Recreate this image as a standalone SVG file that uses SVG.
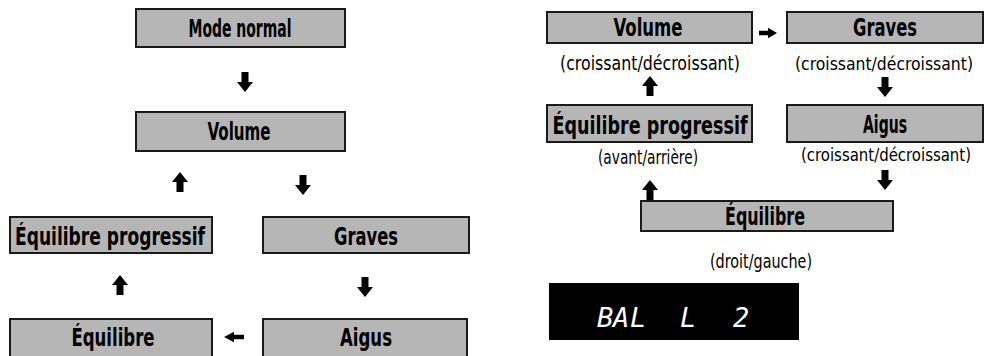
<svg xmlns="http://www.w3.org/2000/svg" width="984" height="356" viewBox="0 0 984 356">
<style>
.box{fill:#b6b6b6;stroke:#1a1a1a;stroke-width:2}
.lbl{font-family:"DejaVu Sans Condensed","Liberation Sans Narrow","Liberation Sans",sans-serif;font-weight:bold;font-size:24px;fill:#000;text-anchor:middle}
.sub{font-family:"DejaVu Sans Condensed","Liberation Sans Narrow","Liberation Sans",sans-serif;font-size:19px;fill:#000;text-anchor:middle}
.subr{font-size:17px}
.arr{fill:#000}
.lcd{font-family:"DejaVu Sans Mono","Liberation Mono",monospace;font-size:27px;fill:#fff;font-style:italic;font-weight:normal}
</style>
<defs>
<path id="ad" d="M-3.5,-10 H3.5 V0 H8 L0,10 L-8,0 H-3.5 Z"/>
</defs>
<rect width="984" height="356" fill="#fff"/>

<g id="n-mode-normal"><rect class="box" x="136" y="9" width="209" height="38"/><text class="lbl" x="240" y="37" textLength="103" lengthAdjust="spacingAndGlyphs">Mode normal</text></g>
<g id="n-volume-l"><rect class="box" x="136" y="112" width="209" height="39"/><text class="lbl" x="239" y="140" textLength="63" lengthAdjust="spacingAndGlyphs">Volume</text></g>
<g id="n-eqprog-l"><rect class="box" x="10" y="217" width="202" height="36"/><text class="lbl" x="110" y="245" textLength="190" lengthAdjust="spacingAndGlyphs">Équilibre progressif</text></g>
<g id="n-graves-l"><rect class="box" x="263" y="217" width="206" height="36"/><text class="lbl" x="366" y="245" textLength="64" lengthAdjust="spacingAndGlyphs">Graves</text></g>
<g id="n-equilibre-l"><rect class="box" x="10" y="319" width="202" height="40"/><text class="lbl" x="113" y="346" textLength="83" lengthAdjust="spacingAndGlyphs">Équilibre</text></g>
<g id="n-aigus-l"><rect class="box" x="263" y="319" width="204" height="40"/><text class="lbl" x="366" y="346" textLength="52" lengthAdjust="spacingAndGlyphs">Aigus</text></g>

<g id="n-volume-r"><rect class="box" x="547" y="12" width="205" height="31"/><text class="lbl" x="648" y="36" textLength="69" lengthAdjust="spacingAndGlyphs">Volume</text><text class="sub" x="650" y="70" textLength="180" lengthAdjust="spacingAndGlyphs">(croissant/décroissant)</text></g>
<g id="n-graves-r"><rect class="box" x="787" y="12" width="196" height="31"/><text class="lbl" x="885" y="36" textLength="64" lengthAdjust="spacingAndGlyphs">Graves</text><text class="sub subr" x="884" y="70" textLength="178" lengthAdjust="spacingAndGlyphs">(croissant/décroissant)</text></g>
<g id="n-eqprog-r"><rect class="box" x="547" y="105" width="205" height="37"/><text class="lbl" x="650" y="134" textLength="195" lengthAdjust="spacingAndGlyphs">Équilibre progressif</text><text class="sub" x="648" y="164" textLength="100" lengthAdjust="spacingAndGlyphs">(avant/arrière)</text></g>
<g id="n-aigus-r"><rect class="box" x="787" y="105" width="196" height="37"/><text class="lbl" x="885" y="133" textLength="44" lengthAdjust="spacingAndGlyphs">Aigus</text><text class="sub subr" x="886" y="161" textLength="170" lengthAdjust="spacingAndGlyphs">(croissant/décroissant)</text></g>
<g id="n-equilibre-r"><rect class="box" x="641" y="201" width="252" height="30"/><text class="lbl" x="765" y="225" textLength="80" lengthAdjust="spacingAndGlyphs">Équilibre</text><text class="sub" x="761" y="268" textLength="102" lengthAdjust="spacingAndGlyphs">(droit/gauche)</text></g>

<g id="n-display"><rect x="549" y="283" width="250" height="57" fill="#000"/>
<text class="lcd" y="327"><tspan x="597">B</tspan><tspan x="613">A</tspan><tspan x="630">L</tspan><tspan x="680">L</tspan><tspan x="733">2</tspan></text></g>

<g id="connectors" class="arr">
<use href="#ad" transform="translate(245,82)"/>
<use href="#ad" transform="translate(180,182) rotate(180)"/>
<use href="#ad" transform="translate(303,185)"/>
<use href="#ad" transform="translate(120,285) rotate(180)"/>
<use href="#ad" transform="translate(365,287)"/>
<use href="#ad" transform="translate(234,337) rotate(90) scale(0.65,1)"/>
<use href="#ad" transform="translate(768,33) rotate(-90) scale(0.65,0.9)"/>
<use href="#ad" transform="translate(650,86) rotate(180)"/>
<use href="#ad" transform="translate(885,87)"/>
<use href="#ad" transform="translate(650,190) rotate(180)"/>
<use href="#ad" transform="translate(885,180)"/>
</g>
</svg>
